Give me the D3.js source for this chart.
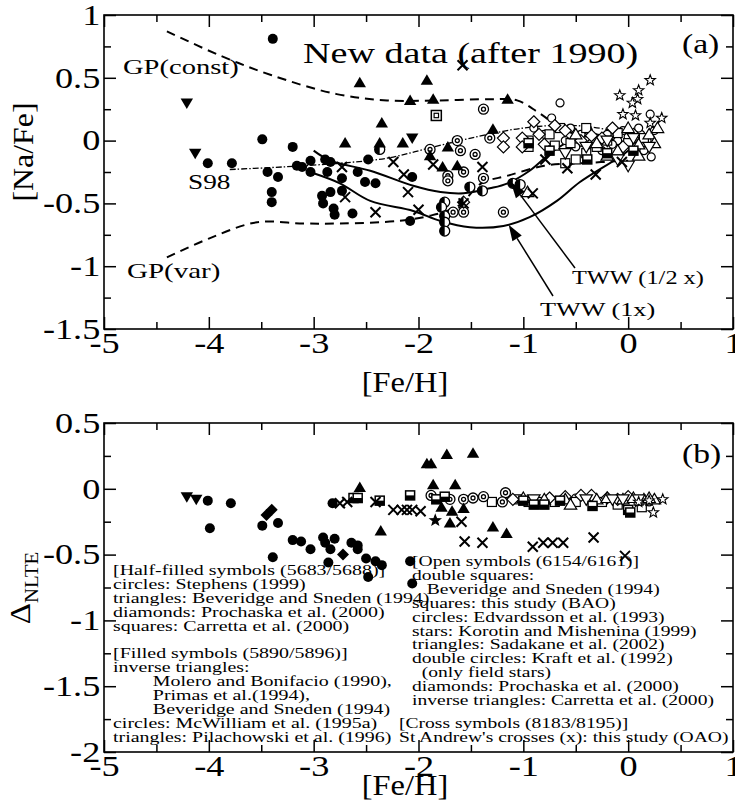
<!DOCTYPE html>
<html>
<head>
<meta charset="utf-8">
<script src="https://cdn.jsdelivr.net/npm/d3@7"></script>
<style>
body { margin: 0; background: #fff; }
svg text { font-family: "Liberation Serif", "Times New Roman", serif; fill: #000; }
</style>
</head>
<body>
<div id="chart"></div>
<script>
// ---------- panel (a) data : [Fe/H], [Na/Fe] ----------
var aFilledCircles = [[-3.39,0.81],[-3.49,0.01],[-3.20,-0.05],[-4.01,-0.18],[-3.78,-0.18],[-3.44,-0.25],[-3.34,-0.29],
  [-3.16,-0.20],[-3.11,-0.21],[-3.03,-0.16],[-2.89,-0.15],[-3.03,-0.25],[-2.87,-0.25],[-3.40,-0.41],[-3.40,-0.49],
  [-2.92,-0.44],[-2.84,-0.41],[-2.91,-0.50],[-2.81,-0.54],[-2.80,-0.59],[-2.73,-0.30],[-2.63,-0.58],[-2.58,-0.25],
  [-2.51,-0.33],[-2.41,-0.34],[-2.48,-0.15],[-2.73,-0.40],[-2.08,-0.64],[-2.06,-0.29],[-2.84,-0.17]];
var aFilledTriangles = [[-2.56,0.46],[-1.92,0.48],[-2.08,0.32],[-1.86,0.33],[-1.15,0.33],[-2.35,0.14],[-2.70,-0.02],
  [-2.37,-0.02],[-2.15,-0.02],[-1.29,0.09],[-1.89,-0.12],[-1.72,-0.05],[-1.77,-0.21],[-1.63,-0.20]];
var aFilledInvTri = [[-4.21,0.30],[-4.13,-0.10],[-2.06,0.02]];
var aCrosses = [[-1.58,0.60],[-2.24,-0.17],[-2.73,-0.21],[-1.86,-0.19],[-1.39,-0.21],[-2.14,-0.27],[-2.10,-0.41],
  [-2.70,-0.45],[-2.41,-0.57],[-2.0,-0.55],[-1.57,-0.50],[-0.91,-0.42],[-0.58,-0.22],[-0.79,-0.15],[-0.31,-0.27],[-0.06,-0.17]];
var aDoubleCircles = [[-1.38,0.25],[-1.63,0.0],[-1.32,0.02],[-1.60,-0.08],[-1.46,-0.11],[-1.89,-0.07],[-1.72,-0.28],
  [-1.72,-0.32],[-1.57,-0.25],[-1.38,-0.30],[-1.67,-0.57],[-1.57,-0.57],[-1.19,-0.57]];
var aHalfCircles = [[-2.37,-0.07],[-1.51,-0.37],[-1.39,-0.40],[-1.75,-0.49],[-1.78,-0.53],[-1.75,-0.60],[-1.75,-0.65],
  [-1.75,-0.72],[-1.10,-0.34],[-1.03,-0.35]];
var aHalfDiamonds = [[-1.57,-0.49]];
var aHalfSquares = [[-0.39,-0.15],[-0.95,-0.02],[-0.75,-0.08],[-0.2,-0.1],[0.05,-0.08]];
var aDoubleSquares = [[-1.83,0.20]];
var aOpenCircles = [[-0.65,0.30],[-0.73,0.18],[-0.55,0.10],[-0.45,0.05],[-0.38,0.08],[-0.3,0.02],[-0.2,0.05],[-0.1,0.0],
  [0.0,0.03],[0.05,-0.05],[0.12,0.05],[0.18,0.0],[0.22,-0.13],[0.21,0.21],[-0.6,0.0],[-0.5,-0.05],[-0.25,-0.08],
  [-0.15,-0.03],[0.1,0.1],[0.25,0.08],[-0.8,0.05],[-0.9,0.1],[-0.35,-0.02],[0.15,-0.08],[-0.05,0.08]];
var aOpenSquares = [[-0.95,0.0],[-0.95,-0.05],[-0.75,0.05],[-0.7,-0.04],[-0.55,-0.02],[-0.4,-0.1],[-0.5,-0.15],
  [-0.3,-0.05],[-0.2,0.0],[-0.1,0.06],[0.0,-0.02],[-0.4,0.1],[0.15,0.02],[-0.65,0.1],[-0.6,-0.18]];
var aOpenDiamonds = [[-1.19,0.02],[-1.19,-0.05],[-1.01,0.02],[-1.01,-0.05],[-0.85,0.05],[-0.8,-0.03],[-0.6,0.08],
  [-0.45,0.0],[-0.35,0.04],[-0.25,0.02],[-0.15,0.1],[-0.05,-0.05],[0.05,0.05],[-0.7,0.12],[-0.9,0.15]];
var aOpenTriangles = [[-0.96,-0.41],[-0.5,0.05],[-0.3,-0.02],[-0.1,-0.08],[0.0,0.1],[0.1,-0.03],[0.2,0.05],[0.25,-0.02],
  [0.1,-0.12],[-0.2,-0.12],[0.28,0.1]];
var aOpenInvTri = [[-0.6,-0.1],[-0.4,-0.05],[-0.2,0.0],[0.05,0.02],[0.0,-0.2],[-0.1,-0.15],[0.2,-0.05]];
var aStars = [[0.21,0.48],[0.10,0.40],[0.09,0.33],[0.04,0.30],[-0.08,0.36],[-0.05,0.21],[0.07,0.20],[0.21,0.14],[0.32,0.18]];

// model curves
var gpConst = [[-4.40,0.87],[-3.9,0.68],[-3.4,0.52],[-2.78,0.37],[-2.3,0.32],[-1.8,0.32],[-1.3,0.33],[-1.06,0.32],
  [-0.85,0.22],[-0.6,0.08],[-0.3,0.02],[0.1,0.0]];
var gpVar = [[-4.40,-0.93],[-4.0,-0.78],[-3.54,-0.65],[-3.1,-0.66],[-2.75,-0.66],[-2.2,-0.64],[-1.9,-0.60],[-1.62,-0.52],
  [-1.4,-0.34],[-1.15,-0.28],[-0.8,-0.20],[-0.45,-0.18],[0.0,-0.16]];
var s98 = [[-3.80,-0.23],[-3.3,-0.21],[-2.75,-0.18],[-2.3,-0.14],[-1.9,-0.06],[-1.5,0.02],[-1.0,0.10],[-0.5,0.12],
  [0.0,0.05],[0.3,-0.05]];
var twwHalf = [[-3.0,-0.08],[-2.84,-0.16],[-2.46,-0.24],[-2.05,-0.36],[-1.79,-0.41],[-1.57,-0.42],[-1.32,-0.38],
  [-1.15,-0.34],[-0.94,-0.24],[-0.74,-0.10],[-0.55,0.0],[-0.3,0.05]];
var tww1x = [[-3.0,-0.26],[-2.75,-0.34],[-2.46,-0.48],[-2.05,-0.56],[-1.79,-0.64],[-1.51,-0.69],[-1.19,-0.68],
  [-0.94,-0.61],[-0.68,-0.48],[-0.46,-0.33],[0.0,-0.08],[0.11,0.02]];

// ---------- panel (b) data : [Fe/H], delta NLTE ----------
var bFilledInvTri = [[-4.21,-0.06],[-4.12,-0.08]];
var bFilledCircles = [[-4.01,-0.09],[-3.79,-0.11],[-3.99,-0.30],[-3.49,-0.28],[-3.34,-0.26],[-3.39,-0.52],[-3.20,-0.39],
  [-3.12,-0.40],[-3.03,-0.46],[-2.91,-0.37],[-2.89,-0.41],[-2.84,-0.46],[-2.80,-0.38],[-2.86,-0.56],[-2.64,-0.41],
  [-2.58,-0.43],[-2.58,-0.46],[-2.50,-0.53],[-2.41,-0.55],[-2.35,-0.58],[-2.48,-0.67],[-2.82,-0.11],[-2.08,-0.55],[-2.06,-0.72]];
var bFilledDiamonds = [[-3.45,-0.20],[-3.40,-0.16],[-2.72,-0.50]];
var bFilledTriangles = [[-2.56,0.01],[-2.36,-0.32],[-1.92,0.19],[-1.88,0.19],[-1.73,0.26],[-1.48,0.27],[-1.86,0.03],
  [-1.65,0.03],[-1.78,-0.14],[-1.68,-0.17],[-1.57,-0.15],[-1.70,-0.26],[-1.29,-0.29],[-1.16,-0.34]];
var bFilledStars = [[-1.84,-0.24]];
var bCrosses = [[-2.75,-0.11],[-2.68,-0.10],[-2.41,-0.10],[-2.24,-0.16],[-2.16,-0.16],[-2.06,-0.16],[-2.11,-0.16],
  [-1.98,-0.17],[-1.59,-0.25],[-1.56,-0.40],[-1.39,-0.41],[-0.91,-0.44],[-0.81,-0.41],[-0.72,-0.41],[-0.62,-0.41],
  [-0.33,-0.37],[-0.03,-0.51]];
var bHalfSquares = [[-2.62,-0.07],[-2.58,-0.07],[-2.37,-0.09],[-2.08,-0.05],[-1.83,-0.08],[-1.75,-0.06],[-1.0,-0.09],
  [-0.9,-0.12],[-0.34,-0.13],[0.0,-0.16],[0.02,-0.18],[-0.8,-0.12],[-0.65,-0.09]];
var bDoubleCircles = [[-1.88,-0.05],[-1.70,-0.08],[-1.57,-0.08],[-1.48,-0.07],[-1.38,-0.06],[-1.17,-0.03],[-1.2,-0.10]];
var bOpenDiamonds = [[-1.1,-0.08],[-0.75,-0.07],[-0.45,-0.05],[-0.35,-0.05],[-0.6,-0.06],[-0.2,-0.07],[-0.1,-0.08],[0.0,-0.06]];
var bOpenSquares = [[-1.3,-0.10],[-1.05,-0.08],[-0.95,-0.10],[-0.85,-0.10],[-0.5,-0.10],[-0.25,-0.10],[-0.1,-0.12],
  [0.13,-0.14],[-0.7,-0.10],[0.1,-0.09]];
var bOpenTriangles = [[-1.0,-0.07],[-0.8,-0.08],[-0.6,-0.08],[-0.55,-0.12],[-0.3,-0.08],[-0.2,-0.07],[-0.05,-0.08],
  [0.05,-0.07],[0.15,-0.08],[0.25,-0.08],[0.2,-0.07]];
var bOpenInvTri = [[-0.9,-0.08],[-0.4,-0.08],[-0.15,-0.08],[-0.05,-0.08],[0.1,-0.08]];
var bOpenCircles = [[-0.7,-0.09],[-0.5,-0.07],[-0.3,-0.10],[0.1,-0.10],[0.2,-0.10]];
var bStars = [[0.24,-0.18],[0.33,-0.08],[0.1,-0.10],[0.2,-0.09]];

var xTicks = [-5, -4, -3, -2, -1, 0, 1];
var aYTicks = [1, 0.5, 0, -0.5, -1, -1.5];
var bYTicks = [0.5, 0, -0.5, -1, -1.5, -2];

var legendLeft = ["[Half-filled symbols (5683/5688)]", "circles: Stephens (1999)",
  "triangles: Beveridge and Sneden (1994)", "diamonds: Prochaska et al. (2000)", "squares: Carretta et al. (2000)", "",
  "[Filled symbols (5890/5896)]", "inverse triangles:", "        Molero and Bonifacio (1990),", "        Primas et al.(1994),",
  "        Beveridge and Sneden (1994)", "circles: McWilliam et al. (1995a)", "triangles: Pilachowski et al. (1996)"];
var legendRight = ["[Open symbols (6154/6161)]", "double squares:", "   Beveridge and Sneden (1994)",
  "squares: this study (BAO)", "circles: Edvardsson et al. (1993)", "stars: Korotin and Mishenina (1999)",
  "triangles: Sadakane et al. (2002)", "double circles: Kraft et al. (1992)", "  (only field stars)",
  "diamonds: Prochaska et al. (2000)", "inverse triangles: Carretta et al. (2000)", "",
  "[Cross symbols (8183/8195)]", "St Andrew's crosses (x): this study (OAO)"];

var width = 735, height = 802;
var svg = d3.select("#chart").append("svg")
  .attr("width", width).attr("height", height);

// text in the original figure is stretched sideways
function stext(g, x, y, str, size, sx, anchor) {
  return g.append("text")
    .attr("transform", "translate(" + x + "," + y + ") scale(" + sx + ",1)")
    .attr("text-anchor", anchor || "start")
    .attr("xml:space", "preserve").style("white-space", "pre")
    .style("font-size", size + "px").text(str);
}

function drawSymbol(g, type) {
  var tri = "M0,-6L6.2,4.5L-6.2,4.5Z", inv = "M0,6L6.2,-4.5L-6.2,-4.5Z";
  if (type == "fc") g.append("circle").attr("r", 5).attr("fill", "#000");
  if (type == "oc") g.append("circle").attr("r", 4).attr("fill", "#fff").attr("stroke", "#000").attr("stroke-width", 1.2);
  if (type == "dc") {
    g.append("circle").attr("r", 5).attr("fill", "#fff").attr("stroke", "#000").attr("stroke-width", 1.3);
    g.append("circle").attr("r", 2).attr("fill", "none").attr("stroke", "#000").attr("stroke-width", 1.3);
  }
  if (type == "hc") {
    g.append("circle").attr("r", 5).attr("fill", "#fff").attr("stroke", "#000").attr("stroke-width", 1.3);
    g.append("path").attr("d", "M0,-5A5,5 0 0 0 0,5Z").attr("fill", "#000");
  }
  if (type == "ft") g.append("path").attr("d", tri).attr("fill", "#000");
  if (type == "ot") g.append("path").attr("d", tri).attr("fill", "#fff").attr("stroke", "#000").attr("stroke-width", 1.2);
  if (type == "fi") g.append("path").attr("d", inv).attr("fill", "#000");
  if (type == "oi") g.append("path").attr("d", inv).attr("fill", "#fff").attr("stroke", "#000").attr("stroke-width", 1.2);
  if (type == "x") g.append("path").attr("d", "M-5,-5L5,5M-5,5L5,-5").attr("stroke", "#000").attr("stroke-width", 2);
  if (type == "os") g.append("rect").attr("x", -4.5).attr("y", -4.5).attr("width", 9).attr("height", 9)
    .attr("fill", "#fff").attr("stroke", "#000").attr("stroke-width", 1.2);
  if (type == "ds") {
    g.append("rect").attr("x", -5).attr("y", -5).attr("width", 10).attr("height", 10)
      .attr("fill", "#fff").attr("stroke", "#000").attr("stroke-width", 1.5);
    g.append("rect").attr("x", -2.2).attr("y", -2.2).attr("width", 4.4).attr("height", 4.4)
      .attr("fill", "none").attr("stroke", "#000").attr("stroke-width", 1.2);
  }
  if (type == "hs") {
    g.append("rect").attr("x", -4.5).attr("y", -4.5).attr("width", 9).attr("height", 9)
      .attr("fill", "#fff").attr("stroke", "#000").attr("stroke-width", 1.5);
    g.append("rect").attr("x", -4.5).attr("y", 0).attr("width", 9).attr("height", 4.5).attr("fill", "#000");
  }
  if (type == "od") g.append("path").attr("d", "M0,-6L6,0L0,6L-6,0Z").attr("fill", "#fff").attr("stroke", "#000").attr("stroke-width", 1.2);
  if (type == "fd") g.append("path").attr("d", "M0,-6L6,0L0,6L-6,0Z").attr("fill", "#000");
  if (type == "hd") {
    g.append("path").attr("d", "M0,-6L6,0L0,6L-6,0Z").attr("fill", "#fff").attr("stroke", "#000").attr("stroke-width", 1.2);
    g.append("path").attr("d", "M0,-6L0,6L-6,0Z").attr("fill", "#000");
  }
  if (type == "st" || type == "fs") {
    var pts = [];
    for (var i = 0; i < 10; i++) {
      var r = i % 2 ? 2.3 : 5.5, a = -Math.PI / 2 + i * Math.PI / 5;
      pts.push([r * Math.cos(a), r * Math.sin(a)]);
    }
    g.append("path").attr("d", "M" + pts.join("L") + "Z")
      .attr("fill", type == "fs" ? "#000" : "#fff").attr("stroke", "#000").attr("stroke-width", 1.1);
  }
}

function plotPoints(g, data, type, xs, ys) {
  g.append("g").selectAll("g").data(data).enter().append("g")
    .attr("transform", function (d) { return "translate(" + xs(d[0]) + "," + ys(d[1]) + ")"; })
    .each(function () { drawSymbol(d3.select(this), type); });
}

function frame(xs, ys, yTicks, yMinor) {
  var g = svg.append("g");
  var x0 = xs.range()[0], x1 = xs.range()[1], y0 = ys.range()[0], y1 = ys.range()[1];
  var xMinor = d3.range(-4.5, 1, 1);
  var fmt = function (d) { return String(d); };
  // bottom
  g.append("g").attr("class", "xAxis").attr("transform", "translate(0," + y0 + ")")
    .call(d3.axisBottom(xs).tickValues(xTicks).tickSize(-12).tickPadding(3).tickFormat(fmt));
  g.append("g").attr("transform", "translate(0," + y0 + ")")
    .call(d3.axisBottom(xs).tickValues(xMinor).tickSize(-7).tickFormat(""));
  // top
  g.append("g").attr("transform", "translate(0," + y1 + ")")
    .call(d3.axisTop(xs).tickValues(xTicks).tickSize(-12).tickFormat(""));
  g.append("g").attr("transform", "translate(0," + y1 + ")")
    .call(d3.axisTop(xs).tickValues(xMinor).tickSize(-7).tickFormat(""));
  // left
  g.append("g").attr("class", "yAxis").attr("transform", "translate(" + x0 + ",0)")
    .call(d3.axisLeft(ys).tickValues(yTicks).tickSize(-12).tickPadding(3).tickFormat(fmt));
  g.append("g").attr("transform", "translate(" + x0 + ",0)")
    .call(d3.axisLeft(ys).tickValues(yMinor).tickSize(-7).tickFormat(""));
  // right
  g.append("g").attr("transform", "translate(" + x1 + ",0)")
    .call(d3.axisRight(ys).tickValues(yTicks).tickSize(-12).tickFormat(""));
  g.append("g").attr("transform", "translate(" + x1 + ",0)")
    .call(d3.axisRight(ys).tickValues(yMinor).tickSize(-7).tickFormat(""));
  g.selectAll(".domain").remove();
  g.selectAll("g").attr("font-family", null);
  g.selectAll(".tick line").attr("stroke", "#000").attr("stroke-width", 1.5);
  g.selectAll(".tick text").attr("fill", "#000").style("font-size", "29px")
    .attr("transform", "scale(1.25,1)");
  g.append("rect").attr("x", x0).attr("y", y1).attr("width", x1 - x0).attr("height", y0 - y1)
    .attr("fill", "none").attr("stroke", "#000").attr("stroke-width", 1.6);
}

function arrowHead(g, from, to) {
  var dx = to[0] - from[0], dy = to[1] - from[1], L = Math.sqrt(dx * dx + dy * dy);
  var ux = dx / L, uy = dy / L, hl = 16, hw = 5.5;
  var bx = to[0] - ux * hl, by = to[1] - uy * hl;
  g.append("line").attr("x1", from[0]).attr("y1", from[1]).attr("x2", bx).attr("y2", by)
    .attr("stroke", "#000").attr("stroke-width", 1.5);
  g.append("path").attr("d", "M" + to[0] + "," + to[1] + "L" + (bx - uy * hw) + "," + (by + ux * hw) +
    "L" + (bx + uy * hw) + "," + (by - ux * hw) + "Z").attr("fill", "#000");
}

// ================= panel (a) =================
var xA = d3.scaleLinear().domain([-5, 1]).range([104, 733]);
var yA = d3.scaleLinear().domain([-1.5, 1]).range([329, 15]);
var line = function (xs, ys) {
  return d3.line().x(function (d) { return xs(d[0]); }).y(function (d) { return ys(d[1]); }).curve(d3.curveCatmullRom);
};
var gA = svg.append("g");
gA.append("path").datum(gpConst).attr("d", line(xA, yA)).attr("fill", "none").attr("stroke", "#000")
  .attr("stroke-width", 2).attr("stroke-dasharray", "9,6");
gA.append("path").datum(gpVar).attr("d", line(xA, yA)).attr("fill", "none").attr("stroke", "#000")
  .attr("stroke-width", 2).attr("stroke-dasharray", "9,6");
gA.append("path").datum(s98).attr("d", line(xA, yA)).attr("fill", "none").attr("stroke", "#000")
  .attr("stroke-width", 1.3).attr("stroke-dasharray", "6,2,1.5,2");
gA.append("path").datum(twwHalf).attr("d", line(xA, yA)).attr("fill", "none").attr("stroke", "#000").attr("stroke-width", 2);
gA.append("path").datum(tww1x).attr("d", line(xA, yA)).attr("fill", "none").attr("stroke", "#000").attr("stroke-width", 2);

plotPoints(gA, aOpenCircles, "oc", xA, yA);
plotPoints(gA, aOpenSquares, "os", xA, yA);
plotPoints(gA, aOpenDiamonds, "od", xA, yA);
plotPoints(gA, aOpenTriangles, "ot", xA, yA);
plotPoints(gA, aOpenInvTri, "oi", xA, yA);
plotPoints(gA, aHalfSquares, "hs", xA, yA);
plotPoints(gA, aStars, "st", xA, yA);
plotPoints(gA, aDoubleSquares, "ds", xA, yA);
plotPoints(gA, aDoubleCircles, "dc", xA, yA);
plotPoints(gA, aHalfCircles, "hc", xA, yA);
plotPoints(gA, aHalfDiamonds, "hd", xA, yA);
plotPoints(gA, aFilledCircles, "fc", xA, yA);
plotPoints(gA, aFilledTriangles, "ft", xA, yA);
plotPoints(gA, aFilledInvTri, "fi", xA, yA);
plotPoints(gA, aCrosses, "x", xA, yA);

frame(xA, yA, aYTicks, d3.range(-1.25, 1, 0.5));

stext(gA, 303, 63, "New data (after 1990)", 30, 1.27);
stext(gA, 682, 53, "(a)", 28, 1.2);
stext(gA, 123, 74, "GP(const)", 21, 1.36);
stext(gA, 188, 189, "S98", 21, 1.3);
stext(gA, 127, 278, "GP(var)", 21, 1.38);
stext(gA, 572, 284, "TWW (1/2 x)", 19, 1.28);
stext(gA, 540, 316, "TWW (1x)", 19, 1.38);
arrowHead(gA, [575, 268], [xA(-1.12), yA(-0.33)]);
arrowHead(gA, [553, 296], [xA(-1.14), yA(-0.67)]);

stext(svg, 405, 392, "[Fe/H]", 29, 1.12, "middle");
svg.append("text").attr("transform", "translate(33,152) rotate(-90) scale(1.1,1)").attr("text-anchor", "middle")
  .style("font-size", "29px").text("[Na/Fe]");

// ================= panel (b) =================
var xB = d3.scaleLinear().domain([-5, 1]).range([104, 733]);
var yB = d3.scaleLinear().domain([-2, 0.5]).range([752, 423]);
var gB = svg.append("g");
plotPoints(gB, bOpenCircles, "oc", xB, yB);
plotPoints(gB, bOpenSquares, "os", xB, yB);
plotPoints(gB, bOpenDiamonds, "od", xB, yB);
plotPoints(gB, bOpenTriangles, "ot", xB, yB);
plotPoints(gB, bOpenInvTri, "oi", xB, yB);
plotPoints(gB, bStars, "st", xB, yB);
plotPoints(gB, bDoubleCircles, "dc", xB, yB);
plotPoints(gB, bHalfSquares, "hs", xB, yB);
plotPoints(gB, bFilledCircles, "fc", xB, yB);
plotPoints(gB, bFilledDiamonds, "fd", xB, yB);
plotPoints(gB, bFilledTriangles, "ft", xB, yB);
plotPoints(gB, bFilledInvTri, "fi", xB, yB);
plotPoints(gB, bFilledStars, "fs", xB, yB);
plotPoints(gB, bCrosses, "x", xB, yB);

frame(xB, yB, bYTicks, d3.range(-1.75, 0.5, 0.5));

stext(gB, 682, 463, "(b)", 28, 1.2);
legendLeft.forEach(function (d, i) {
  if (d) stext(gB, 113, 575 + i * 13.9, d, 15, 1.33);
});
legendRight.forEach(function (d, i) {
  if (!d) return;
  var y = i >= 12 ? 728 + (i - 12) * 14 : 566 + i * 13.9;
  stext(gB, i >= 12 ? 399 : 412, y, d, 15, 1.305);
});

stext(svg, 405, 795, "[Fe/H]", 29, 1.12, "middle");
var dl = svg.append("text").attr("transform", "translate(30,588) rotate(-90) scale(1.1,1)").attr("text-anchor", "middle");
dl.append("tspan").style("font-size", "30px").text("\u0394");
dl.append("tspan").attr("dy", 8).style("font-size", "19px").text("NLTE");
</script>
</body>
</html>
